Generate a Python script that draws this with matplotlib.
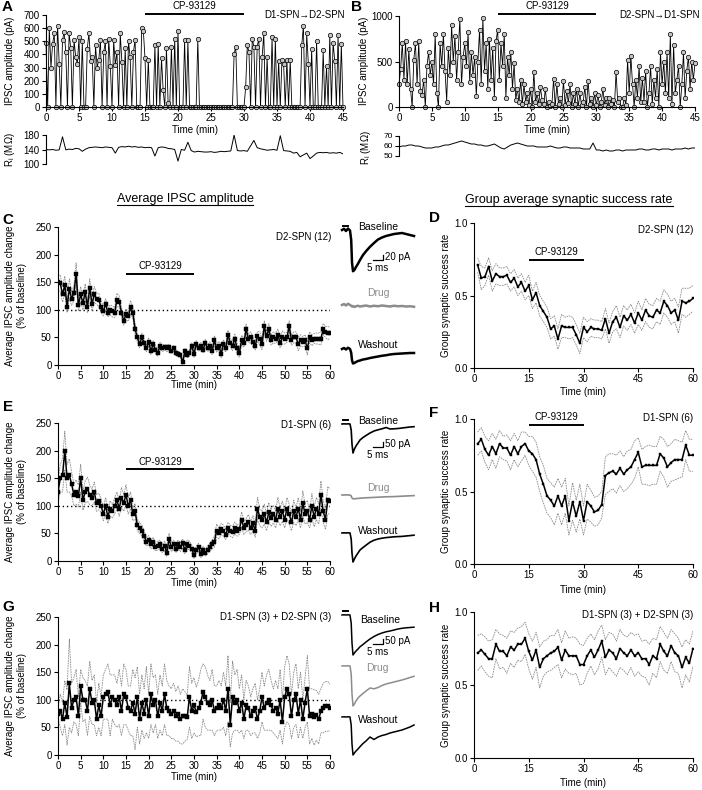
import numpy as np
import matplotlib
matplotlib.use('Agg')
import matplotlib.pyplot as plt
from matplotlib.lines import Line2D

plt.rcParams['font.family'] = ['Liberation Sans', 'DejaVu Sans']

# ---------------- DATA ----------------
DRUG_WINDOW = [15, 30]   # CP-93129 application (min)

# Panel A: IPSC amplitude (pA), sampled every 15 s, D1-SPN -> D2-SPN
A_AMP = [
    490, 0, 600, 300,   480, 560, 0, 620,   330, 0, 510, 570,   420, 0, 560, 450,
    0, 510, 380, 330,   530, 0, 500, 0,     0, 440, 560, 350,   380, 0, 470, 300,
    360, 510, 0, 420,   500, 0, 520, 310,   0, 510, 320, 420,   0, 560, 340, 0,
    450, 0, 500, 380,   0, 420, 510, 0,     0, 0, 600, 580,     370, 0, 360, 0,
    0, 0, 470, 0,       480, 0, 370, 130,   0, 450, 30, 0,      460, 0, 520, 0,
    580, 0, 0, 0,       510, 0, 510, 0,     0, 0, 0, 0,         520, 0, 0, 0,
    0, 0, 0, 0,         0, 0, 0, 0,         0, 0, 0, 0,         0, 0, 0, 0,
    0, 0, 400, 460,     0, 0, 0, 0,         0, 150, 470, 420,   0, 520, 460, 0,
    460, 520, 0, 380,   560, 0, 380, 0,     0, 530, 0, 520,     0, 350, 0, 360,
    330, 0, 360, 0,     360, 0, 0, 0,       0, 0, 0, 470,       620, 0, 560, 330,
    0, 440, 0, 0,       500, 0, 0, 0,       430, 0, 310, 0,     550, 0, 490, 350,
    0, 550, 0, 480,     0]
# Panel A: input resistance (MOhm), every 30 s
A_RI = [140, 139, 140, 138, 139, 175, 139, 141, 140, 143,
        142, 135, 141, 145, 146, 147, 146, 145, 147, 146,
        145, 130, 146, 148, 147, 149, 147, 148, 146, 147,
        145, 146, 145, 122, 145, 147, 146, 143, 142, 140,
        108, 140, 138, 160, 137, 133, 135, 134, 133, 133,
        134, 132, 133, 135, 134, 135, 136, 180, 137, 136,
        137, 135, 150, 165, 145, 142, 140, 138, 139, 140,
        138, 178, 137, 136, 135, 130, 132, 120, 125, 130,
        115, 122, 130, 132, 131, 132, 130, 131, 130, 132, 128]

# Panel B: IPSC amplitude (pA), every 15 s, D2-SPN -> D1-SPN
B_AMP = [
    250, 420, 700, 300,  720, 250, 640, 200,  0, 520, 700, 250,  720, 180, 130, 300,
    0, 450, 600, 350,    500, 250, 800, 150,  0, 700, 450, 800,  400, 60, 650, 350,
    900, 500, 780, 300,  600, 970, 250, 550,  700, 450, 820, 280, 600, 350, 550, 120,
    500, 850, 250, 980,  400, 700, 200, 750,  300, 650, 100, 720, 850, 300, 700, 450,
    800, 100, 550, 350,  600, 200, 480, 80,   200, 50, 300, 30,   250, 60, 150, 20,
    200, 0, 390, 50,     150, 30, 220, 80,    30, 200, 0, 50,     10, 30, 310, 0,
    250, 30, 100, 0,     290, 20, 180, 40,    250, 0, 150, 30,    200, 0, 150, 20,
    50, 220, 0, 290,     30, 100, 0, 150,     20, 130, 0, 50,     200, 20, 100, 0,
    100, 30, 80, 0,      390, 50, 100, 0,     0, 100, 20, 520,    150, 560, 250, 0,
    300, 100, 450, 50,   320, 60, 400, 0,     150, 450, 30, 300,  100, 420, 0, 600,
    250, 500, 150, 600,  100, 800, 30, 680,   150, 300, 450, 0,   250, 600, 100, 400,
    550, 200, 500, 300,  480]
# Panel B: input resistance (MOhm), every 30 s
B_RI = [59, 60, 60, 61, 61, 60, 60, 59, 58, 58,
        58, 59, 59, 60, 61, 61, 62, 63, 64, 65,
        64, 63, 62, 62, 61, 61, 60, 60, 61, 62,
        60, 58, 57, 59, 61, 62, 63, 62, 61, 60,
        60, 60, 59, 59, 59, 59, 60, 59, 58, 58,
        59, 59, 58, 58, 58, 58, 57, 57, 57, 63,
        56, 56, 55, 56, 55, 55, 56, 56, 55, 56,
        56, 56, 56, 57, 57, 56, 56, 57, 57, 56,
        57, 57, 57, 56, 57, 57, 57, 58, 57, 58, 58]

# Panel C: D2-SPN (12), % of baseline, every 30 s
C_MEAN = [150, 148, 128, 145, 105, 138, 120, 130, 165, 108,
          128, 112, 132, 105, 140, 110, 128, 120, 118, 105,
          98, 110, 95, 100, 97, 95, 118, 115, 95, 80,
          92, 88, 105, 95, 65, 50, 38, 50, 40, 30,
          42, 25, 38, 28, 22, 35, 30, 32, 30, 32,
          25, 30, 22, 20, 18, 5, 25, 18, 22, 35,
          20, 38, 30, 35, 28, 40, 30, 35, 25, 45,
          30, 35, 20, 38, 30, 55, 40, 35, 48, 30,
          22, 45, 40, 65, 48, 50, 42, 35, 52, 48,
          38, 70, 52, 65, 45, 50, 48, 55, 40, 50,
          48, 50, 70, 45, 50, 50, 38, 45, 42, 45,
          30, 50, 45, 48, 48, 48, 48, 65, 60, 58,
          58]
C_SEM = [12, 15, 14, 16, 10, 18, 12, 14, 20, 10,
         14, 12, 15, 10, 16, 12, 14, 10, 12, 10,
         9, 10, 8, 9, 10, 9, 12, 10, 9, 8,
         10, 9, 12, 10, 10, 8, 7, 8, 7, 6,
         7, 6, 6, 7, 6, 6, 6, 5, 6, 6,
         5, 5, 5, 5, 5, 4, 5, 5, 6, 5,
         6, 6, 5, 6, 6, 7, 6, 7, 6, 8,
         7, 8, 7, 8, 7, 8, 8, 9, 8, 10,
         8, 9, 8, 9, 8, 10, 9, 8, 9, 12,
         10, 10, 9, 10, 9, 10, 9, 10, 9, 12,
         10, 9, 10, 9, 10, 10, 12, 10, 9, 10,
         12, 10, 10, 9, 10, 10, 12, 10, 10, 12,
         10]

# Panel E: D1-SPN (6)
E_MEAN = [125, 150, 155, 200, 150, 155, 140, 120, 125, 118,
          150, 110, 125, 130, 120, 115, 125, 105, 108, 100,
          85, 100, 80, 95, 90, 100, 110, 95, 115, 105,
          120, 100, 110, 85, 90, 65, 60, 55, 45, 35,
          38, 30, 35, 25, 28, 30, 22, 28, 15, 40,
          25, 30, 22, 30, 25, 32, 20, 30, 28, 22,
          10, 20, 25, 12, 20, 15, 20, 25, 30, 35,
          55, 50, 58, 55, 48, 60, 55, 52, 60, 55,
          58, 75, 60, 65, 70, 60, 68, 55, 95, 80,
          75, 85, 70, 88, 78, 85, 75, 95, 80, 90,
          75, 95, 85, 70, 90, 80, 95, 75, 105, 85,
          90, 75, 100, 80, 95, 85, 120, 90, 75, 110,
          108]
E_SEM = [20, 25, 30, 35, 25, 30, 22, 20, 22, 20,
         25, 18, 20, 22, 18, 15, 18, 15, 15, 12,
         12, 15, 12, 14, 12, 15, 15, 14, 18, 15,
         18, 15, 15, 12, 14, 10, 10, 10, 9, 8,
         8, 8, 8, 7, 8, 8, 7, 8, 7, 10,
         8, 8, 7, 8, 8, 8, 7, 8, 8, 7,
         6, 7, 7, 6, 7, 6, 7, 7, 8, 10,
         12, 10, 10, 10, 9, 10, 10, 10, 11, 10,
         10, 14, 12, 12, 14, 12, 14, 12, 20, 16,
         15, 18, 15, 18, 15, 16, 15, 20, 16, 18,
         15, 20, 18, 15, 20, 16, 20, 15, 22, 18,
         20, 15, 22, 18, 20, 18, 25, 20, 18, 25,
         22]

# Panel G: D1-SPN (3) + D2-SPN (3), vehicle
G_MEAN = [75, 80, 65, 95, 68, 130, 85, 100, 105, 70,
          125, 100, 100, 80, 120, 95, 100, 65, 90, 70,
          105, 110, 115, 90, 105, 100, 90, 105, 80, 110,
          105, 85, 80, 95, 75, 105, 65, 95, 75, 100,
          70, 110, 90, 100, 70, 95, 80, 110, 85, 80,
          75, 80, 70, 75, 65, 70, 70, 68, 105, 80,
          90, 78, 85, 95, 115, 105, 95, 90, 100, 80,
          85, 90, 85, 100, 80, 120, 55, 105, 95, 100,
          80, 95, 65, 90, 85, 70, 80, 85, 65, 80,
          105, 85, 95, 100, 90, 80, 85, 75, 100, 60,
          105, 120, 110, 70, 100, 110, 75, 100, 65, 95,
          120, 70, 75, 68, 72, 65, 80, 85, 88, 88,
          86]
G_SEM = [10, 30, 30, 40, 50, 80, 45, 40, 50, 35,
         30, 40, 35, 45, 50, 40, 45, 30, 40, 35,
         40, 45, 50, 55, 40, 45, 40, 50, 45, 55,
         50, 40, 45, 60, 65, 55, 45, 50, 45, 60,
         40, 55, 50, 45, 40, 50, 45, 55, 50, 45,
         45, 50, 45, 50, 45, 50, 45, 40, 55, 50,
         50, 45, 50, 60, 50, 55, 50, 45, 55, 45,
         40, 45, 40, 50, 45, 60, 40, 65, 50, 55,
         40, 50, 35, 45, 40, 35, 40, 45, 35, 40,
         45, 40, 50, 55, 45, 40, 50, 45, 55, 40,
         55, 60, 55, 40, 50, 55, 45, 50, 35, 45,
         60, 50, 45, 50, 45, 45, 40, 45, 45, 45,
         42]

# Panels D, F, H: group success rate, every minute (1..60)
D_MEAN = [0.71, 0.62, 0.63, 0.70, 0.60, 0.65, 0.63, 0.63, 0.64, 0.59,
          0.62, 0.56, 0.59, 0.53, 0.57, 0.47, 0.52, 0.43, 0.39, 0.35,
          0.27, 0.29, 0.20, 0.29, 0.28, 0.28, 0.28, 0.23, 0.17, 0.28,
          0.25, 0.28, 0.27, 0.27, 0.26, 0.34, 0.24, 0.32, 0.35, 0.28,
          0.36, 0.33, 0.37, 0.31, 0.38, 0.33, 0.40, 0.36, 0.35, 0.40,
          0.38, 0.46, 0.43, 0.38, 0.40, 0.33, 0.46, 0.45, 0.46, 0.48]
D_SEM = [0.05, 0.08, 0.06, 0.06, 0.07, 0.07, 0.06, 0.06, 0.06, 0.06,
         0.06, 0.06, 0.06, 0.06, 0.07, 0.06, 0.07, 0.07, 0.07, 0.07,
         0.07, 0.07, 0.07, 0.08, 0.07, 0.08, 0.07, 0.07, 0.07, 0.07,
         0.07, 0.06, 0.06, 0.06, 0.06, 0.07, 0.07, 0.07, 0.08, 0.07,
         0.07, 0.07, 0.07, 0.07, 0.08, 0.07, 0.08, 0.08, 0.08, 0.08,
         0.08, 0.08, 0.08, 0.08, 0.08, 0.09, 0.09, 0.10, 0.09, 0.09]
F_MEAN = [0.83, 0.86, 0.79, 0.75, 0.81, 0.76, 0.83, 0.80, 0.80, 0.75,
          0.81, 0.76, 0.81, 0.83, 0.78, 0.76, 0.72, 0.62, 0.55, 0.47,
          0.44, 0.40, 0.47, 0.40, 0.47, 0.30, 0.43, 0.33, 0.43, 0.30,
          0.43, 0.40, 0.36, 0.37, 0.41, 0.61, 0.63, 0.64, 0.62, 0.66,
          0.62, 0.65, 0.67, 0.72, 0.77, 0.67, 0.68, 0.68, 0.68, 0.68,
          0.76, 0.73, 0.67, 0.70, 0.72, 0.72, 0.72, 0.82, 0.75, 0.75]
F_SEM = [0.08, 0.08, 0.09, 0.10, 0.09, 0.10, 0.09, 0.08, 0.09, 0.10,
         0.09, 0.09, 0.10, 0.08, 0.10, 0.12, 0.12, 0.12, 0.13, 0.12,
         0.12, 0.13, 0.12, 0.13, 0.12, 0.10, 0.13, 0.11, 0.12, 0.10,
         0.12, 0.11, 0.10, 0.10, 0.09, 0.13, 0.13, 0.12, 0.13, 0.12,
         0.12, 0.13, 0.12, 0.13, 0.10, 0.12, 0.13, 0.14, 0.13, 0.13,
         0.12, 0.13, 0.14, 0.13, 0.14, 0.13, 0.12, 0.10, 0.11, 0.11]
H_MEAN = [0.72, 0.74, 0.71, 0.68, 0.68, 0.78, 0.73, 0.73, 0.70, 0.76,
          0.74, 0.78, 0.78, 0.82, 0.73, 0.67, 0.74, 0.62, 0.68, 0.70,
          0.72, 0.73, 0.76, 0.67, 0.74, 0.70, 0.70, 0.70, 0.64, 0.64,
          0.70, 0.74, 0.69, 0.74, 0.80, 0.69, 0.74, 0.72, 0.68, 0.75,
          0.72, 0.70, 0.74, 0.70, 0.72, 0.68, 0.68, 0.64, 0.70, 0.68,
          0.78, 0.73, 0.70, 0.77, 0.72, 0.70, 0.62, 0.69, 0.65, 0.75]
H_SEM = [0.12, 0.11, 0.12, 0.12, 0.13, 0.10, 0.12, 0.11, 0.12, 0.11,
         0.12, 0.11, 0.12, 0.11, 0.12, 0.13, 0.12, 0.14, 0.12, 0.11,
         0.12, 0.11, 0.12, 0.12, 0.13, 0.12, 0.13, 0.12, 0.14, 0.13,
         0.12, 0.11, 0.12, 0.13, 0.11, 0.12, 0.12, 0.13, 0.12, 0.13,
         0.12, 0.13, 0.12, 0.14, 0.13, 0.12, 0.13, 0.14, 0.12, 0.13,
         0.12, 0.13, 0.12, 0.11, 0.13, 0.12, 0.14, 0.12, 0.13, 0.12]

# Example IPSC traces (time in ms, current in pA)
TR_T = [0, 1, 2, 3, 4, 4.6, 5.0, 5.5, 6.2, 7, 8, 9, 10.5, 12, 14, 16, 18, 20,
        22, 24, 26, 28, 30, 32, 34, 36]
STIM_MS = [0.3, 2.8]
C_BASE = [0, 5, -4, 6, -2, -40, -130, -165, -160, -148, -135, -120, -100, -85,
          -67, -52, -38, -30, -24, -20, -16, -14, -12, -16, -20, -24]
C_DRUG = [0, 4, -2, 5, 0, -3, -6, -4, -8, -5, -3, -6, -4, -2, -6, -3, -5, -2,
          -4, -6, -3, -5, -4, -6, -5, -7]
C_WASH = [0, 4, -2, 5, 0, -15, -45, -58, -56, -52, -48, -46, -42, -40, -36,
          -33, -30, -27, -25, -22, -20, -19, -18, -17, -16, -16]
E_BASE = [0, 2, 0, 2, 0, -60, -200, -290, -250, -220, -190, -160, -135, -115,
          -90, -70, -58, -48, -35, -50, -48, -45, -40, -35, -30, -27]
E_DRUG = [0, 0, 2, 0, 0, -10, -30, -38, -38, -36, -34, -32, -30, -28, -26,
          -24, -22, -20, -18, -17, -16, -14, -12, -10, -8, -6]
E_WASH = [0, 2, 0, 2, 0, -60, -200, -290, -260, -230, -200, -170, -145, -122,
          -92, -72, -60, -52, -46, -42, -38, -36, -34, -30, -26, -22]
G_BASE = [0, 2, 0, 2, 0, -80, -280, -400, -380, -360, -340, -318, -295, -270,
          -240, -215, -195, -180, -168, -160, -150, -140, -133, -128, -125, -122]
G_DRUG = [0, 2, 0, 2, 0, -80, -280, -400, -380, -350, -320, -300, -275, -250,
          -220, -228, -215, -195, -180, -170, -160, -150, -140, -128, -115, -103]
G_WASH = [0, 2, 0, 2, 0, -80, -270, -380, -360, -340, -320, -297, -265, -240,
          -200, -225, -200, -185, -175, -160, -150, -140, -130, -115, -100, -80]

# ---------------- LAYOUT HELPERS ----------------
W, H = 702, 790
fig = plt.figure(figsize=(W / 100, H / 100), dpi=100)
GRAY = '#8c8c8c'


def axpx(l, t, r, b):
    return fig.add_axes([l / W, 1 - b / H, (r - l) / W, (b - t) / H])


def tpx(x, y, s, **kw):
    kw.setdefault('fontsize', 7)
    kw.setdefault('va', 'center')
    return fig.text(x / W, 1 - y / H, s, **kw)


def style(ax, xlim, ylim, xticks=None, yticks=None, yfmt=None, show_x=True,
          labelsize=7):
    for s in ['top', 'right']:
        ax.spines[s].set_visible(False)
    for s in ['left', 'bottom']:
        ax.spines[s].set_linewidth(0.8)
    ax.set_xlim(*xlim)
    ax.set_ylim(*ylim)
    ax.tick_params(direction='out', length=3, width=0.8, labelsize=labelsize,
                   pad=1.5)
    if xticks is not None:
        ax.set_xticks(xticks)
    if yticks is not None:
        ax.set_yticks(yticks)
        if yfmt:
            ax.set_yticklabels([yfmt.format(v) for v in yticks])
    if not show_x:
        ax.spines['bottom'].set_visible(False)
        ax.set_xticks([])
    ax.patch.set_alpha(0)


def letter(x, y, s):
    tpx(x, y, s, fontsize=11, fontweight='bold', ha='center')


def drug_bar(ax, ybar, ytext):
    ax.plot(DRUG_WINDOW, [ybar, ybar], color='k', lw=1.4, clip_on=False,
            solid_capstyle='butt')
    ax.text(np.mean(DRUG_WINDOW), ytext, 'CP-93129', ha='center', va='center',
            fontsize=7, clip_on=False)


def avg_plot(ax, t, mean, sem, ms):
    mean = np.asarray(mean, float)
    sem = np.asarray(sem, float)
    for bound in (mean + sem, mean - sem):
        ax.plot(t, bound, color=GRAY, lw=0.6, ls=(0, (2, 1)))
    ax.plot(t, mean, color='k', lw=1.1, marker='s', ms=ms, mfc='k', mec='k',
            mew=0.3, zorder=3)


# ---------------- PANEL A ----------------
tA = np.arange(len(A_AMP)) / 4
axA = axpx(46, 15, 343, 107)
axA.plot(tA, A_AMP, '-o', color='k', lw=0.6, ms=3.2, mfc='#c4c4c4', mec='k',
         mew=0.5, clip_on=False)
style(axA, (0, 45), (0, 700), range(0, 46, 5), range(0, 701, 100))
drug_bar(axA, 707, 768)
tpx(345, 15, 'D1-SPN→D2-SPN', ha='right')
tpx(195, 130, 'Time (min)', ha='center')
tpx(10, 61, 'IPSC amplitude (pA)', rotation=90, ha='center')
axAr = axpx(46, 135, 343, 164)
axAr.plot(np.arange(len(A_RI)) / 2, A_RI, color='k', lw=0.7)
style(axAr, (0, 45), (100, 180), yticks=[100, 140, 180], show_x=False)
tpx(10, 150, r'R$_\mathregular{i}$ (MΩ)', rotation=90, ha='center')
letter(7, 7, 'A')

# ---------------- PANEL B ----------------
tB = np.arange(len(B_AMP)) / 4
axB = axpx(399, 16, 695, 107)
axB.plot(tB, B_AMP, '-o', color='k', lw=0.6, ms=3.2, mfc='#c4c4c4', mec='k',
         mew=0.5, clip_on=False)
style(axB, (0, 45), (0, 1000), range(0, 46, 5), [0, 500, 1000])
drug_bar(axB, 1022, 1110)
tpx(700, 15, 'D2-SPN→D1-SPN', ha='right')
tpx(547, 130, 'Time (min)', ha='center')
tpx(364, 61, 'IPSC amplitude (pA)', rotation=90, ha='center')
axBr = axpx(399, 136, 695, 156)
axBr.plot(np.arange(len(B_RI)) / 2, B_RI, color='k', lw=0.7)
style(axBr, (0, 45), (50, 70), yticks=[50, 60, 70], show_x=False,
      labelsize=6)
tpx(366, 148, r'R$_\mathregular{i}$ (MΩ)', rotation=90, ha='center')
letter(356, 7, 'B')

# ---------------- TITLES ----------------
titles = [tpx(185, 199, 'Average IPSC amplitude', ha='center', fontsize=9),
          tpx(569, 200, 'Group average synaptic success rate', ha='center',
              fontsize=9)]

# ---------------- PANELS C / E / G ----------------
avg_specs = [
    (C_MEAN, C_SEM, 227, 365, 'D2-SPN (12)', 237, 220, 385, (165, 180), 'C'),
    (E_MEAN, E_SEM, 423, 561, 'D1-SPN (6)', 425, 407, 583, (167, 179), 'E'),
    (G_MEAN, G_SEM, 617, 755, 'D1-SPN (3) + D2-SPN (3)', 617, 607, 777, None, 'G'),
]
for mean, sem, top, bot, lab, laby, lety, xly, db, let in avg_specs:
    ax = axpx(58, top, 330, bot)
    t = np.arange(len(mean)) * 0.5
    ax.axhline(100, color='k', lw=1.0, ls=(0, (1, 2)), zorder=1)
    avg_plot(ax, t, mean, sem, ms=2.4)
    style(ax, (0, 60), (0, 250), range(0, 61, 5), range(0, 251, 50))
    if db:
        drug_bar(ax, db[0], db[1])
    tpx(331, laby, lab, ha='right')
    tpx(194, xly, 'Time (min)', ha='center')
    tpx(16, (top + bot) / 2, 'Average IPSC amplitude change\n(% of baseline)',
        rotation=90, ha='center', linespacing=1.15)
    letter(8, lety, let)

# ---------------- PANELS D / F / H ----------------
rate_specs = [
    (D_MEAN, D_SEM, 223, 368, 'D2-SPN (12)', 230, 218, 392, (0.745, 0.80), 'D'),
    (F_MEAN, F_SEM, 419, 564, 'D1-SPN (6)', 418, 413, 590, (0.96, 1.015), 'F'),
    (H_MEAN, H_SEM, 612, 758, 'D1-SPN (3) + D2-SPN (3)', 615, 608, 783, None, 'H'),
]
for mean, sem, top, bot, lab, laby, lety, xly, db, let in rate_specs:
    ax = axpx(474, top, 693, bot)
    t = np.arange(1, len(mean) + 1)
    avg_plot(ax, t, mean, sem, ms=1.8)
    style(ax, (0, 60), (0, 1), [0, 15, 30, 45, 60], [0, 0.5, 1.0], yfmt='{:.1f}')
    if db:
        drug_bar(ax, db[0], db[1])
    tpx(693, laby, lab, ha='right')
    tpx(583, xly, 'Time (min)', ha='center')
    tpx(446, (top + bot) / 2, 'Group synaptic success rate', rotation=90,
        ha='center')
    letter(434, lety, let)

# ---------------- EXAMPLE TRACES ----------------
TX0 = 342          # left edge of trace column (px)
PX_PER_MS = 2.0


def trace_ax(y0, scale, above=14, below=48):
    ax = axpx(TX0, y0 - above, TX0 + 36 * PX_PER_MS, y0 + below)
    ax.set_xlim(0, 36)
    ax.set_ylim(-below * scale, above * scale)
    ax.axis('off')
    return ax


trace_specs = [
    (4, 20, 260, 1.8, [(230, C_BASE, 'k', 'Baseline', 358, 227),
                       (305, C_DRUG, GRAY, 'Drug', 367, 293),
                       (349, C_WASH, 'k', 'Washout', 358, 345)]),
    (10, 50, 447, 1.2, [(424, E_BASE, 'k', 'Baseline', 358, 421),
                        (495, E_DRUG, GRAY, 'Drug', 367, 488),
                        (533, E_WASH, 'k', 'Washout', 358, 531)]),
    (10, 50, 644, 1.1, [(615, G_BASE, 'k', 'Baseline', 360, 620),
                        (666, G_DRUG, GRAY, 'Drug', 366, 668),
                        (717, G_WASH, 'k', 'Washout', 358, 720)]),
]
for scale, sb_pa, sb_y, lw, traces in trace_specs:
    for i, (y0, data, col, lab, lx, ly) in enumerate(traces):
        ax = trace_ax(y0, scale)
        ax.plot(TR_T, data, color=col, lw=lw, clip_on=False)
        tpx(lx, ly, lab, ha='left', color=col, fontsize=7.5)
        if i == 0:
            ax.plot(STIM_MS, [4 * scale, 4 * scale], color='k', lw=1.4,
                    clip_on=False)
            cx = (383 - TX0) / PX_PER_MS
            cy = (y0 - sb_y) * scale
            ax.plot([cx - 5, cx, cx], [cy, cy, cy + sb_pa], color='k', lw=0.9,
                    clip_on=False)
            tpx(385, sb_y - 3, f'{sb_pa} pA', ha='left')
            tpx(367, sb_y + 8, '5 ms', ha='left')

# underline the column titles
fig.canvas.draw()
for ttl in titles:
    bb = ttl.get_window_extent()
    fig.add_artist(Line2D([bb.x0 / W, bb.x1 / W], [(bb.y0 + 0.5) / H] * 2,
                          transform=fig.transFigure, color='k', lw=0.8))

fig.savefig('out.png', dpi=100)
